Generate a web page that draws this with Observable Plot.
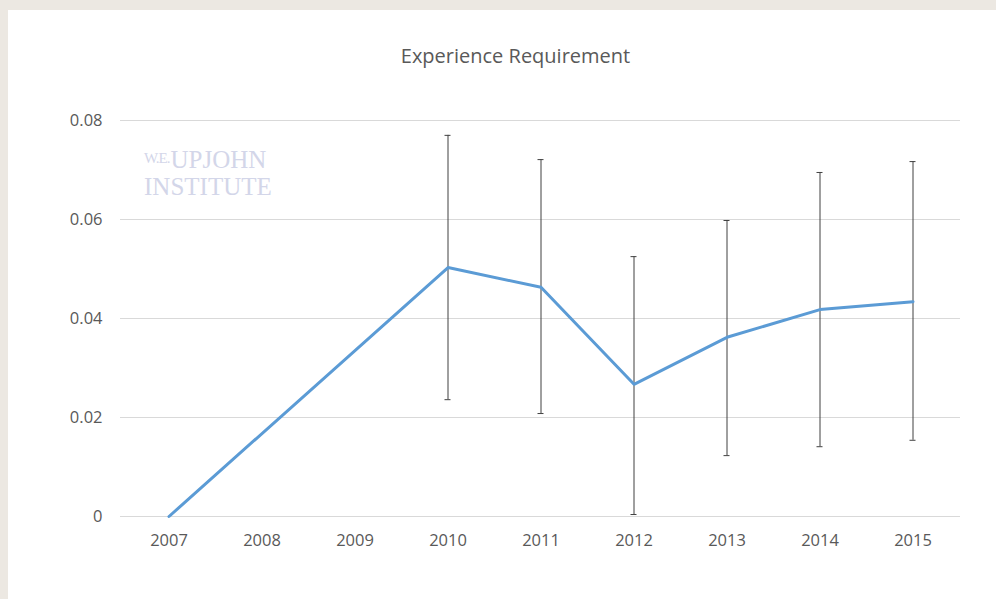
<!DOCTYPE html>
<html>
<head>
<meta charset="utf-8">
<script src="https://cdn.jsdelivr.net/npm/d3@7"></script>
<script src="https://cdn.jsdelivr.net/npm/@observablehq/plot@0.6"></script>
<style>
  html, body { margin: 0; padding: 0; background: #ece8e2; }
  #wrap { position: relative; width: 996px; height: 599px; overflow: hidden; }
  #panel { position: absolute; left: 8px; top: 10px; width: 988px; height: 589px; background: #ffffff; }
  #title { position: absolute; left: 0; width: 1031px; top: 42px; text-align: center;
           font-family: "Open Sans", sans-serif; font-size: 20px; color: #595959; }
  #chart { position: absolute; left: 0; top: 0; }
  #wm { position: absolute; left: 144px; top: 148px; font-family: "Liberation Serif", serif;
        color: #d3d6e9; line-height: 24px; }
  #wm .we { font-size: 15px; vertical-align: top; position: relative; top: -2px; letter-spacing: -1px; margin-right: 1px; }
  #wm .big { font-size: 25px; }
</style>
</head>
<body>
<div id="wrap">
  <div id="panel"></div>
  <div id="wm"><span class="we">W.E.</span><span class="big">UPJOHN</span><br><span class="big">INSTITUTE</span></div>
  <div id="title">Experience Requirement</div>
  <div id="chart"></div>
</div>
<script>
const years = ["2007","2008","2009","2010","2011","2012","2013","2014","2015"];
const lineYears = ["2007","2010","2011","2012","2013","2014","2015"];
const lineValues = [0, 0.0503, 0.0463, 0.0267, 0.0362, 0.0418, 0.0434];
const errYears = ["2010","2011","2012","2013","2014","2015"];
const errLow  = [0.0236, 0.0208, 0.0004, 0.0123, 0.0141, 0.0154];
const errHigh = [0.0770, 0.0721, 0.0525, 0.0598, 0.0695, 0.0717];
const yTicks = [0, 0.02, 0.04, 0.06, 0.08];

const lineData = lineYears.map((y, i) => ({year: y, value: lineValues[i]}));
const errData = errYears.map((y, i) => ({year: y, low: errLow[i], high: errHigh[i]}));

const chart = Plot.plot({
  width: 996,
  height: 599,
  marginLeft: 120,
  marginRight: 36,
  marginTop: 120,
  marginBottom: 83,
  style: { fontFamily: "Open Sans, sans-serif", fontSize: "16.5px", color: "#595959", background: "transparent", overflow: "visible" },
  x: { type: "band", domain: years, padding: 0, label: null },
  y: { domain: [0, 0.08], label: null },
  marks: [
    Plot.ruleY(yTicks, { stroke: "#d9d9d9", strokeWidth: 1 }),
    Plot.axisY({ ticks: yTicks, tickSize: 0, tickPadding: 18, tickFormat: d => d === 0 ? "0" : d.toFixed(2), fill: "#595959", label: null }),
    Plot.axisX({ tickSize: 0, tickPadding: 18, fill: "#595959", label: null }),
    Plot.ruleX(errData, { x: "year", y1: "low", y2: "high", stroke: "#404040", strokeWidth: 1 }),
    Plot.tickY(errData, { x: "year", y: "low", stroke: "#404040", strokeWidth: 1, insetLeft: 43.5, insetRight: 43.5 }),
    Plot.tickY(errData, { x: "year", y: "high", stroke: "#404040", strokeWidth: 1, insetLeft: 43.5, insetRight: 43.5 }),
    Plot.line(lineData, { x: "year", y: "value", stroke: "#5b9bd5", strokeWidth: 3, strokeLinejoin: "round" })
  ]
});
document.getElementById("chart").appendChild(chart);
</script>
</body>
</html>
